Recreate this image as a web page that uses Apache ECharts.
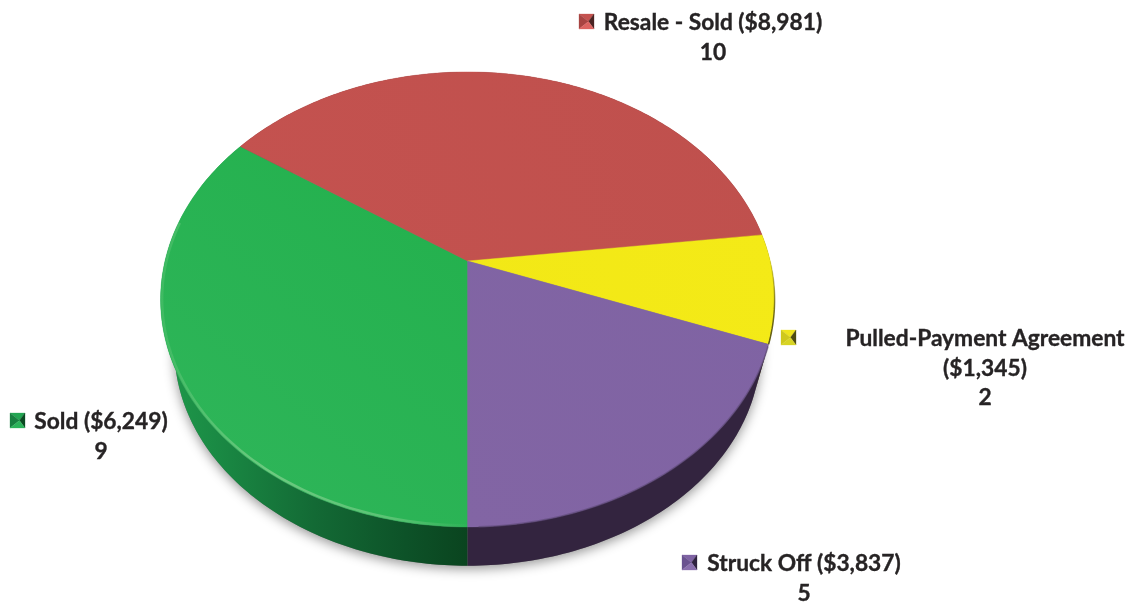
<!DOCTYPE html>
<html>
<head>
<meta charset="utf-8">
<style>html,body{margin:0;padding:0;background:#fff}#chart{width:1143px;height:602px}</style>
<script src="https://cdn.jsdelivr.net/npm/echarts@6/dist/echarts.min.js"></script>
</head>
<body>
<div id="chart"></div>
<script>
// Parcel outcomes: slice size follows the parcel count, the dollar total is stated in the label.
const categories = ['Sold', 'Resale - Sold', 'Pulled-Payment Agreement', 'Struck Off'];
const amounts = ['$6,249', '$8,981', '$1,345', '$3,837'];
const counts = [9, 10, 2, 5];

// Appearance and placement of each slice and its label
const topColors = [
  ['#22b04c', '#30b65b'], ['#bf504d', '#c4524f'], ['#f4ea17', '#f2e816'], ['#7f63a3', '#8265a4']
];
const sideColors = [null, '#6e2d2b', '#55520f', '#33243f'];
const swatchFacets = [
  ['#22a552', '#178040', '#0a4a22', '#2bb35a'],
  ['#c4524f', '#a84442', '#4a2422', '#dc6461'],
  ['#efe41c', '#cfc81c', '#4f4b10', '#d8d424'],
  ['#7f63a3', '#6a5290', '#2f2340', '#8a6fae']
];
const labelAnchors = [[101, 407], [713, 8], [985, 324], [804, 549]];
const swatchAnchors = [[10, 413], [579, 14], [781, 330], [682, 555]];
const lineBreakAfterName = [false, false, true, false];

// Perspective of the disc: apex, radii and foreshortening of the top face
const cx = 467.6, cy = 261, rx = 302.6, ry = 221, k = 0.169;
// The underside is a slightly smaller copy of the top outline, lowered
const ringX = 467.6, ringY = 300, ringScale = 0.955, ringDrop = 49;
const START = Math.PI; // first slice begins at the near edge, slices run clockwise
const total = counts.reduce((a, b) => a + b, 0);

function project(a, r) {
  const u = r * Math.sin(a), v = r * Math.cos(a), w = 1 + k * v;
  return [cx + rx * u / w, cy - ry * v / w];
}
function projectUnder(a) {
  const p = project(a, 1);
  return [ringX + ringScale * (p[0] - ringX), ringY + ringDrop + ringScale * (p[1] - ringY)];
}
function sliceRange(i) {
  let s = 0;
  for (let j = 0; j < i; j++) s += counts[j];
  const a0 = START + s / total * Math.PI * 2;
  return [a0, a0 + counts[i] / total * Math.PI * 2];
}
function sample(a0, a1, fn) {
  const n = Math.max(4, Math.ceil(Math.abs(a1 - a0) * 60));
  const pts = [];
  for (let i = 0; i <= n; i++) pts.push(fn(a0 + (a1 - a0) * i / n));
  return pts;
}
const arc = (a0, a1, r) => sample(a0, a1, a => project(a, r));
const underArc = (a0, a1) => sample(a0, a1, projectUnder);
function linear(x0, y0, x1, y1, stops) {
  return { type: 'linear', x: x0, y: y0, x2: x1, y2: y1, colorStops: stops };
}

function renderSide(params, api) {
  const i = api.value(0);
  const [a0, a1] = sliceRange(i);
  const poly = arc(a0, a1, 1).concat(underArc(a0, a1).reverse());
  const fill = i === 0
    ? linear(1, 0, 0, 0, [
        { offset: 0, color: '#0a441f' }, { offset: 0.2, color: '#0d5228' },
        { offset: 0.5, color: '#136a35' }, { offset: 0.82, color: '#1a8a44' },
        { offset: 1, color: '#1f9a4b' }])
    : sideColors[i];
  return { type: 'polygon', shape: { points: poly }, style: { fill: fill } };
}

function renderTop(params, api) {
  const i = api.value(0);
  const [a0, a1] = sliceRange(i);
  const outer = arc(a0, a1, 1);
  const children = [{
    type: 'polygon',
    shape: { points: [[cx, cy]].concat(outer) },
    style: {
      fill: linear(1, 0, 0, 1, [{ offset: 0, color: topColors[i][0] }, { offset: 1, color: topColors[i][1] }]),
      stroke: topColors[i][1], lineWidth: 0.4
    }
  }];
  if (i === 0) {
    // pale bevel along the near rim of the disc
    children.push({
      type: 'polyline',
      shape: { points: arc(a0, a0 + 1.75, 0.995) },
      style: {
        fill: 'none', lineWidth: 2.4,
        stroke: linear(0, 0, 1, 0, [
          { offset: 0, color: 'rgba(120,205,135,0.25)' }, { offset: 0.35, color: 'rgba(120,205,135,0.85)' },
          { offset: 0.75, color: 'rgba(120,205,135,0.6)' }, { offset: 1, color: 'rgba(120,205,135,0)' }])
      }
    });
  }
  if (i === 2) {
    // thin shaded edge on the yellow slice
    children.push({
      type: 'polyline',
      shape: { points: arc(a0 + 0.12, a1, 1) },
      style: {
        fill: 'none', lineWidth: 1.5,
        stroke: linear(0, 0, 0, 1, [{ offset: 0, color: 'rgba(90,85,20,0)' }, { offset: 0.6, color: 'rgba(90,85,20,0.8)' }, { offset: 1, color: 'rgba(90,85,20,1)' }])
      }
    });
  }
  if (i === 3) {
    // soft darker edge where the purple top meets its wall
    children.push({
      type: 'polyline',
      shape: { points: arc(a1 - 1.2, a1 - 0.03, 1) },
      style: { fill: 'none', lineWidth: 1.6, stroke: 'rgba(90,70,115,0.55)' }
    });
  }
  return { type: 'group', children: children };
}

function renderLabel(params, api) {
  const i = api.value(0);
  const [sx, sy] = swatchAnchors[i], s = 15;
  const c = [sx + s * 0.63, sy + s * 0.5];
  const corners = [[sx, sy], [sx + s, sy], [sx + s, sy + s], [sx, sy + s]];
  const f = swatchFacets[i];
  const facet = (p, q, color) => ({
    type: 'polygon', shape: { points: [p, q, c] }, style: { fill: color, stroke: color, lineWidth: 0.3 }
  });
  const sep = lineBreakAfterName[i] ? '\n' : ' ';
  return {
    type: 'group',
    children: [
      facet(corners[0], corners[1], f[0]),
      facet(corners[3], corners[0], f[1]),
      facet(corners[1], corners[2], f[2]),
      facet(corners[2], corners[3], f[3]),
      {
        type: 'text',
        style: {
          x: labelAnchors[i][0], y: labelAnchors[i][1],
          text: categories[i] + sep + '(' + amounts[i] + ')\n' + api.value(1),
          align: 'center', verticalAlign: 'top',
          font: '700 22.75px Lato, sans-serif', lineHeight: 29.5, fill: '#262324',
          stroke: '#262324', lineWidth: 0.35
        }
      }
    ]
  };
}

const indexed = counts.map((c, i) => [i, c]);
const chart = echarts.init(document.getElementById('chart'), null, { renderer: 'canvas' });
const layer = (z, data, renderItem) => ({
  type: 'custom', coordinateSystem: 'none', silent: true, z: z, data: data, renderItem: renderItem
});
chart.setOption({
  animation: false,
  backgroundColor: '#ffffff',
  series: [
    // soft shadow cast by the disc onto the page
    layer(1, [[0]], () => ({
      type: 'polygon',
      shape: { points: underArc(0, Math.PI * 2) },
      style: { fill: '#777', shadowBlur: 12, shadowOffsetY: 3, shadowColor: 'rgba(0,0,0,0.42)' }
    })),
    layer(2, indexed, renderSide),
    layer(3, indexed, renderTop),
    layer(4, indexed, renderLabel)
  ]
});
</script>
</body>
</html>
